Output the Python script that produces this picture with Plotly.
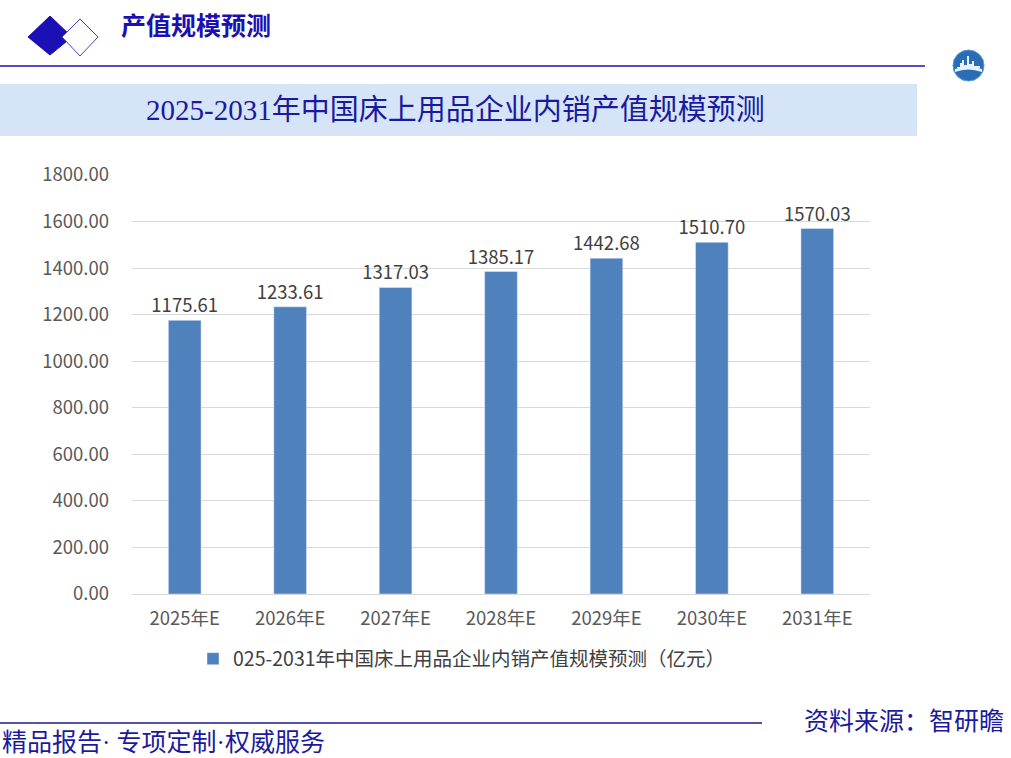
import plotly.graph_objects as go

categories = ["2025年E", "2026年E", "2027年E", "2028年E", "2029年E", "2030年E", "2031年E"]
values = [1175.61, 1233.61, 1317.03, 1385.17, 1442.68, 1510.70, 1570.03]
series_name = "025-2031年中国床上用品企业内销产值规模预测（亿元）"
y_ticks = [0, 200, 400, 600, 800, 1000, 1200, 1400, 1600, 1800]

W, H = 1011, 758
def px(x):
    return x / W
def py(y):
    return 1 - y / H

BLUE = "#1a10b4"
CJK = "Noto Sans CJK SC"
SERIF = "Liberation Serif, Noto Sans CJK SC"

fig = go.Figure()
fig.add_trace(go.Bar(
    x=categories, y=values, name=series_name,
    marker=dict(color="#4f81bd"),
    width=0.31,
    text=[f"{v:.2f}" for v in values],
    textposition="outside",
    constraintext="none",
    textfont=dict(size=18.5, color="#404040", family=CJK),
    cliponaxis=False,
))

fig.update_layout(
    width=W, height=H,
    margin=dict(l=0, r=0, t=0, b=0, autoexpand=False),
    paper_bgcolor="white", plot_bgcolor="white",
    showlegend=True,
    legend=dict(orientation="h", x=px(462), xanchor="center", y=py(659), yanchor="middle",
                font=dict(size=19.5, color="#404040", family=CJK), itemwidth=30),
    xaxis=dict(domain=[px(132), px(870)], showgrid=False, showline=True, linecolor="#d9d9d9",
               tickfont=dict(size=18.5, color="#595959", family=CJK), ticks="", ticklabelstandoff=8),
    yaxis=dict(domain=[py(594), py(175)], range=[0, 1800], tickvals=y_ticks,
               ticktext=[f"{v:.2f}" for v in y_ticks], showgrid=True, gridcolor="#d9d9d9",
               zeroline=False, tickfont=dict(size=18.5, color="#595959", family=CJK),
               ticklabelstandoff=22),
    font=dict(family=CJK),
)

shapes = []
# header diamonds
shapes.append(dict(type="path", xref="paper", yref="paper",
                   path=f"M {px(28)} {py(37)} L {px(50)} {py(16)} L {px(72)} {py(37)} L {px(50)} {py(55)} Z",
                   fillcolor=BLUE, line=dict(color=BLUE, width=1)))
shapes.append(dict(type="path", xref="paper", yref="paper",
                   path=f"M {px(62)} {py(37)} L {px(80)} {py(19)} L {px(98)} {py(37)} L {px(80)} {py(56)} Z",
                   fillcolor="white", line=dict(color="#4a40c8", width=1)))
# header line
shapes.append(dict(type="line", xref="paper", yref="paper", x0=0, x1=px(925), y0=py(66), y1=py(66),
                   line=dict(color=BLUE, width=1.5)))
# banner
shapes.append(dict(type="rect", xref="paper", yref="paper", x0=0, x1=px(917), y0=py(136), y1=py(84),
                   fillcolor="#d6e4f8", line=dict(width=0), layer="below"))
# logo
shapes.append(dict(type="circle", xref="paper", yref="paper", x0=px(953), x1=px(984), y0=py(81), y1=py(50),
                   fillcolor="#2a6db5", line=dict(color="#5a9ad8", width=1)))
shapes.append(dict(type="path", xref="paper", yref="paper",
                   path=(f"M {px(957)} {py(67)} L {px(960)} {py(67)} L {px(960)} {py(63)} L {px(962)} {py(63)} "
                         f"L {px(962)} {py(60)} L {px(964)} {py(60)} L {px(964)} {py(65)} L {px(967)} {py(65)} "
                         f"L {px(967)} {py(56)} L {px(969)} {py(56)} L {px(969)} {py(64)} L {px(972)} {py(64)} "
                         f"L {px(972)} {py(61)} L {px(974)} {py(61)} L {px(974)} {py(66)} L {px(980)} {py(66)} "
                         f"L {px(980)} {py(68)} L {px(957)} {py(68)} Z"),
                   fillcolor="#e8f2fb", line=dict(width=0)))
shapes.append(dict(type="path", xref="paper", yref="paper",
                   path=f"M {px(955)} {py(69)} Q {px(968)} {py(64)} {px(982)} {py(69)} L {px(982)} {py(72)} Q {px(968)} {py(67)} {px(955)} {py(72)} Z",
                   fillcolor="#e8f2fb", line=dict(width=0)))
# footer line
shapes.append(dict(type="line", xref="paper", yref="paper", x0=0, x1=px(762), y0=py(723), y1=py(723),
                   line=dict(color="#1a1a8a", width=1.5)))
fig.update_layout(shapes=shapes)

annotations = [
    dict(text="<b>产值规模预测</b>", x=px(119), y=py(26), xanchor="left", yanchor="middle",
         font=dict(size=25, color=BLUE, family=SERIF)),
    dict(text="2025-2031年中国床上用品企业内销产值规模预测", x=px(455), y=py(110), xanchor="center", yanchor="middle",
         font=dict(size=29, color="#1a1aa0", family=SERIF)),
    dict(text="精品报告· 专项定制·权威服务", x=0, y=py(742), xanchor="left", yanchor="middle",
         font=dict(size=25, color="#1a1aa0", family=SERIF)),
    dict(text="资料来源：智研瞻", x=px(1006), y=py(721), xanchor="right", yanchor="middle",
         font=dict(size=25, color="#1a1aa0", family=SERIF)),
]
for a in annotations:
    a.update(xref="paper", yref="paper", showarrow=False)
fig.update_layout(annotations=annotations)

fig.write_html("out.html", config={"displayModeBar": False},
               post_script="document.body.style.margin='0';document.body.style.overflow='hidden';")
